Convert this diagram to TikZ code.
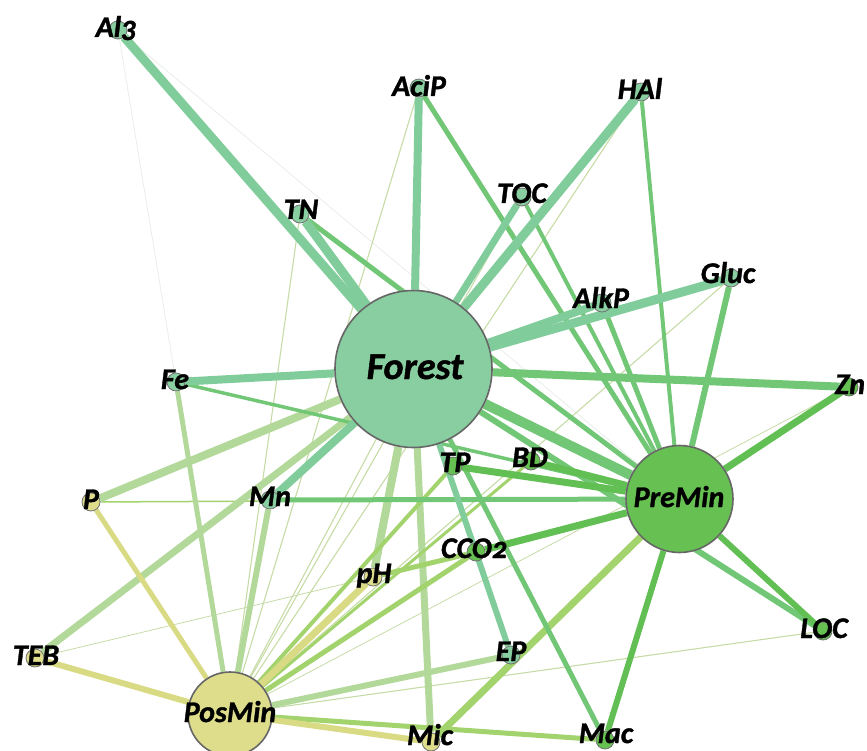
\documentclass[tikz,border=0pt]{standalone}
\usepackage{fontspec}
\newfontfamily\labfont{Carlito}[Numbers=OldStyle, BoldItalicFeatures={FakeBold=1.2}]
\definecolor{cF}{HTML}{88CEA0}
\definecolor{cP}{HTML}{66C052}
\definecolor{cM}{HTML}{DEDD8C}
\definecolor{colFF}{HTML}{80CD9B}
\definecolor{colFP}{HTML}{72C776}
\definecolor{colPP}{HTML}{62BF54}
\definecolor{colFM}{HTML}{B2D99A}
\definecolor{colPM}{HTML}{A3D36C}
\definecolor{colMM}{HTML}{D9DA84}
\definecolor{colThin}{HTML}{C6DBA6}
\definecolor{colFaint}{HTML}{E6ECE4}
\pgfdeclarelayer{edges}
\pgfsetlayers{edges,main}
\begin{document}
\begin{tikzpicture}[x=1pt,y=-1pt,
  sn/.style={circle, draw=black!55, line width=0.8pt, minimum size=18pt, inner sep=0pt},
  bign/.style={circle, draw=black!60, line width=1.6pt, inner sep=0pt},
  lb/.style={anchor=base, inner sep=0pt, font=\labfont\bfseries\itshape\fontsize{30}{30}\selectfont},
  lbig/.style={anchor=base, inner sep=0pt, font=\labfont\bfseries\itshape\fontsize{38}{38}\selectfont},
  eff/.style={draw=colFF},
  efp/.style={draw=colFP},
  epp/.style={draw=colPP},
  efm/.style={draw=colFM},
  epm/.style={draw=colPM},
  emm/.style={draw=colMM},
  ethin/.style={draw=colThin, line width=1.1pt},
  efaint/.style={draw=colFaint, line width=0.7pt}
]
\useasboundingbox (0,0) rectangle (867,751);

% big nodes
\node[bign, fill=cF, minimum size=157pt] (Forest) at (413.5,369) {};
\node[bign, fill=cP, minimum size=107pt] (PreMin) at (679.5,499) {};
\node[bign, fill=cM, minimum size=84pt] (PosMin) at (230,714) {};

% small nodes
\node[sn, fill=cF] (Al3) at (118,30) {};
\node[sn, fill=cF] (AciP) at (419,88) {};
\node[sn, fill=cF] (HAl) at (641,92) {};
\node[sn, fill=cF] (TOC) at (522,197) {};
\node[sn, fill=cF] (TN) at (300,214) {};
\node[sn, fill=cF] (AlkP) at (602,303) {};
\node[sn, fill=cF] (Gluc) at (731,278) {};
\node[sn, fill=cP] (Zn) at (849,387) {};
\node[sn, fill=cF] (Fe) at (176,382) {};
\node[sn, fill=cP] (TP) at (453,466) {};
\node[sn, fill=cP] (BD) at (531,461) {};
\node[sn, fill=cF] (Mn) at (270,500) {};
\node[sn, fill=cM] (P) at (91,502) {};
\node[sn, fill=cP] (CCO2) at (476,552) {};
\node[sn, fill=cM] (pH) at (373,577) {};
\node[sn, fill=cF] (EP) at (511,655) {};
\node[sn, fill=cP] (LOC) at (823,631) {};
\node[sn, fill=cM] (TEB) at (35,658) {};
\node[sn, fill=cM] (Mic) at (431,742) {};
\node[sn, fill=cP] (Mac) at (605,740) {};

% labels
\node[lbig] (lForest) at (415,379) {Forest};
\node[lb] (lPreMin) at (679,507) {PreMin};
\node[lb] (lPosMin) at (230,722) {PosMin};
\node[lb] (lAl3) at (116,37) {Al3};
\node[lb] (lAciP) at (419,96) {AciP};
\node[lb] (lHAl) at (640,99) {HAl};
\node[lb] (lTOC) at (522,203) {TOC};
\node[lb] (lTN) at (301,219) {TN};
\node[lb] (lAlkP) at (601,308) {AlkP};
\node[lb] (lGluc) at (728,283) {Gluc};
\node[lb] (lZn) at (850,394) {Zn};
\node[lb] (lFe) at (175,389) {Fe};
\node[lb] (lTP) at (455,472) {TP};
\node[lb] (lBD) at (530,467) {BD};
\node[lb] (lMn) at (270,506) {Mn};
\node[lb] (lP) at (91,509) {P};
\node[lb] (lCCO2) at (474,558) {CCO2};
\node[lb] (lpH) at (374,583) {pH};
\node[lb] (lEP) at (511,661) {EP};
\node[lb] (lLOC) at (824,638) {LOC};
\node[lb] (lTEB) at (36,665) {TEB};
\node[lb] (lMic) at (430,745) {Mic};
\node[lb] (lMac) at (606,743) {Mac};

\begin{pgfonlayer}{edges}
% faint and thin
\draw[efaint] (Al3) -- (Fe);
\draw[efaint] (Al3) -- (PreMin);
\draw[ethin] (PosMin) -- (TN);
\draw[ethin] (PosMin) -- (AciP);
\draw[ethin] (PosMin) -- (TOC);
\draw[ethin] (PosMin) -- (HAl);
\draw[ethin] (PosMin) -- (Gluc);
\draw[ethin, line width=0.8pt] (PosMin) -- (Zn);
\draw[ethin] (PosMin) -- (LOC);
\draw[ethin] (PosMin) -- (Forest);
\draw[ethin, line width=0.8pt] (TEB) -- (pH);
\draw[epm, line width=1.5pt] (P) -- (PreMin);
% Forest - PosMin community mix
\draw[efm, line width=8pt] (P) -- (Forest);
\draw[efm, line width=7pt] (TEB) -- (Forest);
\draw[efm, line width=8pt] (pH) -- (Forest);
\draw[efm, line width=7pt] (Mic) -- (Forest);
\draw[efm, line width=5pt] (PosMin) -- (Fe);
\draw[efm, line width=6pt] (PosMin) -- (Mn);
\draw[efm, line width=6pt] (PosMin) -- (EP);
% PosMin - PreMin mix
\draw[epm, line width=7pt] (Mic) -- (PreMin);
\draw[epm, line width=4pt] (PosMin) -- (TP);
\draw[epm, line width=3pt] (PosMin) -- (BD);
\draw[epm, line width=5pt] (PosMin) -- (CCO2);
\draw[epm, line width=5pt] (PosMin) -- (Mac);
\draw[epm, line width=5pt] (pH) -- (CCO2);
% PosMin - PosMin
\draw[emm, line width=5pt] (PosMin) -- (P);
\draw[emm, line width=6pt] (PosMin) -- (TEB);
\draw[emm, line width=7pt] (PosMin) -- (pH);
\draw[emm, line width=6pt] (PosMin) -- (Mic);
% Forest - PreMin mix
\draw[efp, line width=8pt] (Zn) -- (Forest);
\draw[efp, line width=10pt] (Forest) -- (PreMin);
\draw[efp, line width=6pt] (Forest) -- (LOC);
\draw[efp, line width=5pt] (Forest) -- (Mac);
\draw[efp, line width=5pt] (TN) -- (PreMin);
\draw[efp, line width=5pt] (AciP) -- (PreMin);
\draw[efp, line width=4pt] (TOC) -- (PreMin);
\draw[efp, line width=4pt] (HAl) -- (PreMin);
\draw[efp, line width=5pt] (AlkP) -- (PreMin);
\draw[efp, line width=6pt] (Gluc) -- (PreMin);
\draw[efp, line width=3.5pt] (Fe) -- (PreMin);
\draw[efp, line width=5pt] (Mn) -- (PreMin);
% PreMin - PreMin
\draw[epp, line width=7pt] (Zn) -- (PreMin);
\draw[epp, line width=7pt] (TP) -- (PreMin);
\draw[epp, line width=7pt] (BD) -- (PreMin);
\draw[epp, line width=7pt] (CCO2) -- (PreMin);
\draw[epp, line width=6pt] (LOC) -- (PreMin);
\draw[epp, line width=6pt] (Mac) -- (PreMin);
% Forest - Forest
\draw[eff, line width=9pt] (Al3) -- (Forest);
\draw[eff, line width=9pt] (TN) -- (Forest);
\draw[eff, line width=8pt] (AciP) -- (Forest);
\draw[eff, line width=7pt] (TOC) -- (Forest);
\draw[eff, line width=9pt] (HAl) -- (Forest);
\draw[eff, line width=8pt] (AlkP) -- (Forest);
\draw[eff, line width=9pt] (Gluc) -- (Forest);
\draw[eff, line width=8pt] (Fe) -- (Forest);
\draw[eff, line width=8pt] (Mn) -- (Forest);
\draw[eff, line width=6pt] (EP) -- (Forest);
\end{pgfonlayer}
\end{tikzpicture}
\end{document}
